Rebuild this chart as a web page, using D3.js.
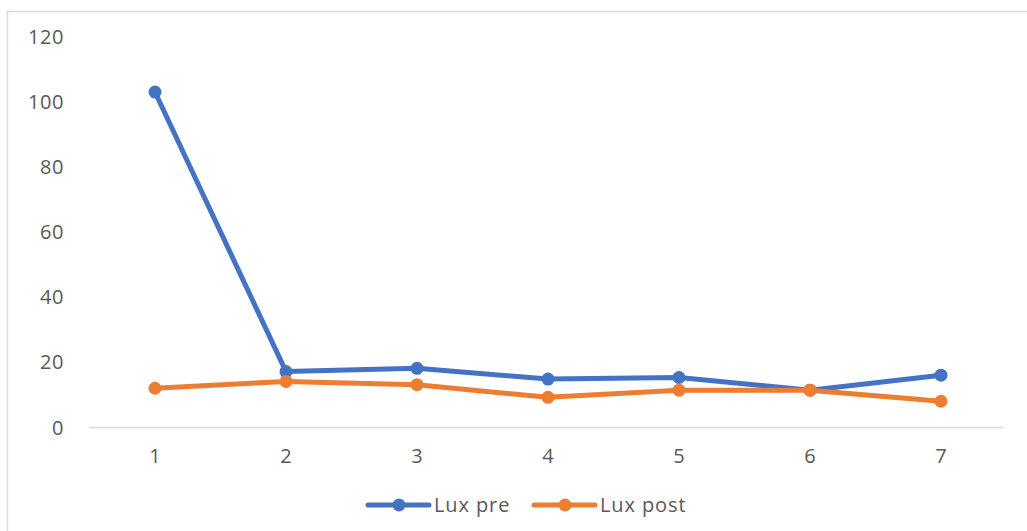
<!DOCTYPE html>
<html>
<head>
<meta charset="utf-8">
<script src="https://cdn.jsdelivr.net/npm/d3@7"></script>
<style>
  html, body { margin: 0; padding: 0; background: #fff; }
  svg { display: block; }
  text { font-family: "Open Sans", "Noto Sans", sans-serif; fill: #595959; }
</style>
</head>
<body>
<svg id="chart" width="1027" height="531"></svg>
<script>
// Measurement points and lux readings before / after
const categories = ["1", "2", "3", "4", "5", "6", "7"];
const luxPre  = [102.8, 17.0, 18.0, 14.7, 15.2, 11.3, 15.9];
const luxPost = [11.9, 14.0, 13.0, 9.1, 11.3, 11.3, 7.9];
const yTicks = [0, 20, 40, 60, 80, 100, 120];
const seriesNames = ["Lux pre", "Lux post"];
const seriesColors = ["#4472C4", "#ED7D31"];

const series = [
  { name: seriesNames[0], values: luxPre, color: seriesColors[0] },
  { name: seriesNames[1], values: luxPost, color: seriesColors[1] }
];

const svg = d3.select("#chart");

// chart frame
svg.append("rect")
  .attr("x", 7.5).attr("y", 11.5)
  .attr("width", 1040).attr("height", 540)
  .attr("fill", "#fff")
  .attr("stroke", "#d9d9d9").attr("stroke-width", 1.5);

const plot = { left: 89.5, right: 1006.5, top: 36, bottom: 427 };

const x = d3.scaleBand().domain(categories).range([plot.left, plot.right]);
const y = d3.scaleLinear().domain([0, 120]).range([plot.bottom, plot.top]);

// y axis labels (no axis line)
const yAxis = d3.axisLeft(y).tickValues(yTicks).tickSize(0).tickPadding(0);
const yg = svg.append("g").attr("transform", "translate(64,0)").call(yAxis);
yg.select(".domain").remove();
yg.selectAll("text")
  .style("font-size", "20px")
  .style("letter-spacing", "0.6px")
  .attr("fill", "#595959")
  .attr("dy", "0.35em");

// category axis
const xAxis = d3.axisBottom(x).tickSize(0).tickPadding(0);
const xg = svg.append("g").attr("transform", `translate(0,${plot.bottom})`).call(xAxis);
xg.select(".domain").remove();
xg.append("line")
  .attr("x1", 89).attr("x2", 1003)
  .attr("y1", 0.5).attr("y2", 0.5)
  .attr("stroke", "#d9d9d9").attr("stroke-width", 1.5);
xg.selectAll("text")
  .style("font-size", "20px")
  .attr("fill", "#595959")
  .attr("y", 36)
  .attr("dy", "0");

const line = d3.line()
  .x((d, i) => x(categories[i]) + x.bandwidth() / 2)
  .y(d => y(d));

series.forEach(s => {
  svg.append("path")
    .datum(s.values)
    .attr("fill", "none")
    .attr("stroke", s.color)
    .attr("stroke-width", 5)
    .attr("stroke-linejoin", "round")
    .attr("stroke-linecap", "round")
    .attr("d", line);
  svg.append("g").selectAll("circle")
    .data(s.values)
    .join("circle")
    .attr("cx", (d, i) => x(categories[i]) + x.bandwidth() / 2)
    .attr("cy", d => y(d))
    .attr("r", 6.5)
    .attr("fill", s.color);
});

// legend
const legendX = [368, 534];
const legendY = 505;
series.forEach((s, i) => {
  const g = svg.append("g").attr("transform", `translate(${legendX[i]},${legendY})`);
  g.append("line")
    .attr("x1", 0).attr("x2", 61)
    .attr("y1", 0).attr("y2", 0)
    .attr("stroke", s.color).attr("stroke-width", 5)
    .attr("stroke-linecap", "round");
  g.append("circle").attr("cx", 31).attr("cy", 0).attr("r", 6.5).attr("fill", s.color);
  g.append("text")
    .attr("x", 66).attr("y", 0).attr("dy", "0.35em")
    .style("font-size", "20px")
    .style("letter-spacing", "0.9px")
    .text(s.name);
});
</script>
</body>
</html>
